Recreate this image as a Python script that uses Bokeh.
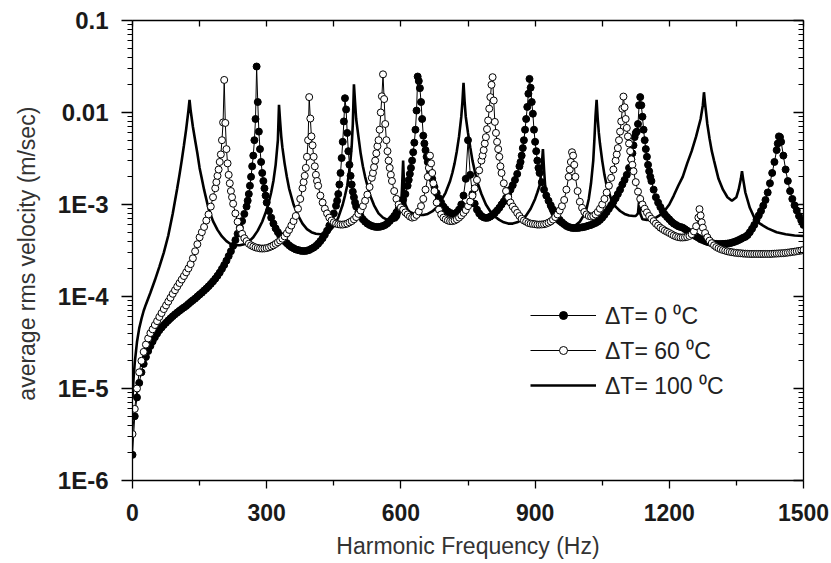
from bokeh.plotting import figure
from bokeh.models import (FixedTicker, LinearAxis, LogAxis, Range1d, ColumnDataSource,
                          Legend, LegendItem, CustomJSTickFormatter)
from bokeh.embed import file_html
from bokeh.resources import INLINE

FONT = "Liberation Sans"

# ---------------- data (frequency Hz, rms velocity m/s) ----------------
dt0 = [(0,1.9e-6),(5,5.0e-6),(10,8.0e-6),(15,1.15e-5),(20,1.5e-5),(25,1.85e-5),(30,2.2e-5),(35,2.55e-5),
(40,2.9e-5),(45,3.25e-5),(50,3.6e-5),(55,3.95e-5),(60,4.3e-5),(65,4.6e-5),(70,4.9e-5),(75,5.2e-5),
(80,5.5e-5),(85,5.8e-5),(90,6.1e-5),(95,6.4e-5),(100,6.7e-5),(105,7.0e-5),(110,7.3e-5),(115,7.6e-5),
(120,7.9e-5),(125,8.3e-5),(130,8.7e-5),(135,9.1e-5),(140,9.5e-5),(145,1.0e-4),(150,1.05e-4),(155,1.1e-4),
(160,1.16e-4),(165,1.22e-4),(170,1.29e-4),(175,1.37e-4),(180,1.46e-4),(185,1.56e-4),(190,1.68e-4),
(195,1.82e-4),(200,2.0e-4),(205,2.2e-4),(210,2.45e-4),(215,2.75e-4),(220,3.1e-4),(225,3.55e-4),
(230,4.1e-4),(235,4.8e-4),(240,5.6e-4),(245,6.6e-4),(250,7.9e-4),(255,9.5e-4),(257.5,1.1e-3),
(260,1.3e-3),(262.5,1.6e-3),(265,2.0e-3),(267.5,2.6e-3),(270,3.4e-3),(272.5,5.0e-3),(275,8.5e-3),
(277.5,3.16e-2),(280,1.3e-2),(282.5,6.2e-3),(285,4.0e-3),(287.5,2.9e-3),(290,2.2e-3),(292.5,1.8e-3),
(295,1.5e-3),(297.5,1.25e-3),(300,1.05e-3),(305,8.5e-4),(310,7.2e-4),(315,6.2e-4),(320,5.5e-4),
(325,5.0e-4),(330,4.6e-4),(335,4.25e-4),(340,4.0e-4),(345,3.8e-4),(350,3.6e-4),(355,3.45e-4),
(360,3.35e-4),(365,3.25e-4),(370,3.2e-4),(375,3.15e-4),(380,3.12e-4),(385,3.12e-4),(390,3.15e-4),
(395,3.2e-4),(400,3.3e-4),(405,3.4e-4),(410,3.55e-4),(415,3.75e-4),(420,4.0e-4),(425,4.3e-4),
(430,4.7e-4),(435,5.2e-4),(440,5.9e-4),(445,6.8e-4),(450,8.0e-4),(455,9.7e-4),(457.5,1.1e-3),
(460,1.3e-3),(462.5,1.65e-3),(465,2.2e-3),(467.5,3.2e-3),(470,4.8e-3),(472.5,8.0e-3),(475,1.43e-2),
(477.5,1.08e-2),(480,6.0e-3),(482.5,3.8e-3),(485,2.7e-3),(487.5,2.05e-3),(490,1.65e-3),(492.5,1.38e-3),
(495,1.2e-3),(497.5,1.05e-3),(500,9.5e-4),(505,8.3e-4),(510,7.5e-4),(515,6.9e-4),(520,6.5e-4),
(525,6.2e-4),(530,6.0e-4),(535,5.85e-4),(540,5.75e-4),(545,5.7e-4),(550,5.7e-4),(555,5.75e-4),
(560,5.85e-4),(565,6.0e-4),(570,6.25e-4),(575,6.6e-4),(580,7.0e-4),(585,7.5e-4),(590,8.2e-4),
(595,9.0e-4),(600,1.0e-3),(605,1.13e-3),(610,1.3e-3),(615,1.6e-3),(617.5,1.85e-3),(620,2.15e-3),
(622.5,2.5e-3),(625,3.0e-3),(627.5,3.7e-3),(630,4.7e-3),(632.5,6.5e-3),(635,1.05e-2),(637.5,2.46e-2),
(640,2.2e-2),(642.5,1.84e-2),(645,1.3e-2),(647.5,8.5e-3),(650,5.6e-3),(652.5,4.6e-3),(655,3.9e-3),
(657.5,3.3e-3),(660,2.9e-3),(665,2.3e-3),(670,1.9e-3),(675,1.55e-3),(680,1.33e-3),(685,1.17e-3),
(690,1.05e-3),(695,9.5e-4),(700,8.9e-4),(705,8.4e-4),(710,8.1e-4),(715,7.95e-4),(720,7.95e-4),
(725,8.2e-4),(730,8.8e-4),(735,1.0e-3),(740,1.25e-3),(745,1.9e-3),(750,5.0e-3),(755,2.1e-3),
(760,1.3e-3),(765,1.02e-3),(770,8.8e-4),(775,8.0e-4),(780,7.5e-4),(785,7.25e-4),(790,7.15e-4),
(795,7.2e-4),(800,7.4e-4),(805,7.7e-4),(810,8.1e-4),(815,8.6e-4),(820,9.2e-4),(825,1.0e-3),
(830,1.08e-3),(835,1.18e-3),(840,1.3e-3),(845,1.45e-3),(850,1.62e-3),(855,1.85e-3),(860,2.15e-3),
(865,2.6e-3),(867.5,2.9e-3),(870,3.4e-3),(872.5,4.1e-3),(875,5.0e-3),(877.5,6.5e-3),(880,8.5e-3),
(882.5,1.15e-2),(885,1.6e-2),(887.5,2.32e-2),(890,1.86e-2),(892.5,1.3e-2),(895,9.7e-3),(897.5,6.5e-3),
(900,4.8e-3),(902.5,3.8e-3),(905,3.0e-3),(907.5,2.5e-3),(910,2.2e-3),(915,1.75e-3),(920,1.45e-3),
(925,1.25e-3),(930,1.1e-3),(935,9.8e-4),(940,8.8e-4),(945,8.0e-4),(950,7.3e-4),(955,6.8e-4),
(960,6.4e-4),(965,6.1e-4),(970,5.85e-4),(975,5.7e-4),(980,5.6e-4),(985,5.55e-4),(990,5.55e-4),
(995,5.55e-4),(1000,5.6e-4),(1005,5.65e-4),(1010,5.7e-4),(1015,5.8e-4),(1020,5.9e-4),(1025,6.0e-4),
(1030,6.15e-4),(1035,6.3e-4),(1040,6.5e-4),(1045,6.8e-4),(1050,7.2e-4),(1055,7.7e-4),(1060,8.3e-4),
(1065,9.0e-4),(1070,9.8e-4),(1075,1.07e-3),(1080,1.17e-3),(1085,1.3e-3),(1090,1.45e-3),(1095,1.65e-3),
(1100,1.85e-3),(1105,2.1e-3),(1110,2.5e-3),(1115,3.1e-3),(1117.5,3.6e-3),(1120,4.4e-3),(1122.5,5.4e-3),
(1125,6.0e-3),(1127.5,6.2e-3),(1130,7.5e-3),(1132.5,1.2e-2),(1135,1.47e-2),(1137.5,1.2e-2),
(1140,9.0e-3),(1142.5,6.5e-3),(1145,5.0e-3),(1147.5,4.0e-3),(1150,3.3e-3),(1152.5,2.7e-3),
(1155,2.3e-3),(1157.5,2.0e-3),(1160,1.8e-3),(1165,1.45e-3),(1170,1.2e-3),(1175,1.05e-3),(1180,9.4e-4),
(1185,8.5e-4),(1190,7.8e-4),(1195,7.3e-4),(1200,6.9e-4),(1205,6.5e-4),(1210,6.2e-4),(1215,6.0e-4),
(1220,5.8e-4),(1225,5.7e-4),(1230,5.6e-4),(1235,5.4e-4),(1240,5.2e-4),(1245,5.0e-4),(1250,4.8e-4),
(1255,4.65e-4),(1260,4.5e-4),(1265,4.35e-4),(1270,4.2e-4),(1275,4.1e-4),(1280,4.0e-4),(1285,3.92e-4),
(1290,3.86e-4),(1295,3.8e-4),(1300,3.76e-4),(1305,3.73e-4),(1310,3.72e-4),(1315,3.72e-4),(1320,3.73e-4),
(1325,3.74e-4),(1330,3.76e-4),(1335,3.8e-4),(1340,3.85e-4),(1345,3.92e-4),(1350,4.0e-4),(1355,4.1e-4),
(1360,4.22e-4),(1365,4.35e-4),(1370,4.45e-4),(1375,4.65e-4),(1380,5.0e-4),(1385,5.45e-4),(1390,6.0e-4),
(1395,6.8e-4),(1400,7.6e-4),(1405,8.5e-4),(1410,9.7e-4),(1415,1.12e-3),(1420,1.35e-3),(1425,1.7e-3),
(1430,2.2e-3),(1435,2.9e-3),(1440,3.9e-3),(1442.5,4.6e-3),(1445,5.5e-3),(1447.5,5.4e-3),(1450,4.8e-3),
(1455,3.4e-3),(1460,2.4e-3),(1465,1.8e-3),(1470,1.4e-3),(1475,1.15e-3),(1480,9.8e-4),(1485,8.6e-4),
(1490,7.5e-4),(1495,6.7e-4),(1500,6.0e-4)]

dt60 = [(0,3.2e-6),(5,6.0e-6),(10,1.0e-5),(15,1.5e-5),(20,2.0e-5),(25,2.5e-5),(30,3.0e-5),(35,3.5e-5),
(40,4.0e-5),(45,4.4e-5),(50,4.9e-5),(55,5.4e-5),(60,6.0e-5),(65,6.6e-5),(70,7.3e-5),(75,8.0e-5),
(80,8.8e-5),(85,9.7e-5),(90,1.07e-4),(95,1.17e-4),(100,1.28e-4),(105,1.4e-4),(110,1.53e-4),(115,1.67e-4),
(120,1.83e-4),(125,2.02e-4),(130,2.25e-4),(135,2.6e-4),(140,3.1e-4),(145,3.7e-4),(150,4.4e-4),
(155,5.0e-4),(160,5.7e-4),(165,6.7e-4),(170,7.8e-4),(175,9.5e-4),(180,1.2e-3),(185,1.5e-3),
(187.5,1.75e-3),(190,2.05e-3),(192.5,2.4e-3),(195,2.9e-3),(197.5,3.5e-3),(200,5.0e-3),(202.5,7.8e-3),
(205,2.26e-2),(207.5,7.7e-3),(210,4.0e-3),(212.5,2.8e-3),(215,2.1e-3),(217.5,1.7e-3),(220,1.4e-3),
(222.5,1.2e-3),(225,1.02e-3),(230,8.0e-4),(235,6.5e-4),(240,5.5e-4),(245,4.8e-4),(250,4.3e-4),
(255,4.0e-4),(260,3.75e-4),(265,3.6e-4),(270,3.5e-4),(275,3.42e-4),(280,3.37e-4),(285,3.33e-4),
(290,3.32e-4),(295,3.33e-4),(300,3.36e-4),(305,3.42e-4),(310,3.5e-4),(315,3.6e-4),(320,3.73e-4),
(325,3.88e-4),(330,4.05e-4),(335,4.25e-4),(340,4.5e-4),(345,4.85e-4),(350,5.3e-4),(355,5.9e-4),
(360,6.6e-4),(365,7.5e-4),(370,9.0e-4),(375,1.15e-3),(380,1.5e-3),(382.5,1.75e-3),(385,2.05e-3),
(387.5,2.5e-3),(390,3.3e-3),(392.5,5.0e-3),(395,1.47e-2),(397.5,8.6e-3),(400,5.5e-3),(402.5,4.4e-3),
(405,3.3e-3),(407.5,2.6e-3),(410,2.1e-3),(412.5,1.8e-3),(415,1.6e-3),(420,1.25e-3),(425,1.05e-3),
(430,9.0e-4),(435,8.0e-4),(440,7.2e-4),(445,6.7e-4),(450,6.4e-4),(455,6.2e-4),(460,6.1e-4),
(465,6.05e-4),(470,6.05e-4),(475,6.1e-4),(480,6.2e-4),(485,6.4e-4),(490,6.6e-4),(495,6.9e-4),
(500,7.3e-4),(505,7.9e-4),(510,8.6e-4),(515,9.6e-4),(520,1.1e-3),(525,1.28e-3),(530,1.55e-3),
(535,1.95e-3),(537.5,2.2e-3),(540,2.55e-3),(542.5,3.0e-3),(545,3.6e-3),(547.5,4.3e-3),(550,5.0e-3),
(552.5,6.5e-3),(555,1.0e-2),(557.5,1.5e-2),(560,2.6e-2),(562.5,1.4e-2),(565,7.5e-3),(567.5,5.0e-3),
(570,3.8e-3),(572.5,3.0e-3),(575,2.5e-3),(577.5,2.1e-3),(580,1.8e-3),(585,1.4e-3),(590,1.15e-3),
(595,1.0e-3),(600,9.3e-4),(605,8.8e-4),(610,8.2e-4),(615,7.8e-4),(620,7.4e-4),(625,7.2e-4),
(630,7.3e-4),(635,7.7e-4),(640,8.4e-4),(645,9.6e-4),(650,1.15e-3),(655,1.45e-3),(660,2.0e-3),
(662.5,2.5e-3),(665,3.4e-3),(667.5,2.8e-3),(670,2.2e-3),(672.5,1.7e-3),(675,1.4e-3),(680,1.05e-3),
(685,8.8e-4),(690,7.8e-4),(695,7.2e-4),(700,6.9e-4),(705,6.7e-4),(710,6.6e-4),(715,6.6e-4),
(720,6.7e-4),(725,6.9e-4),(730,7.2e-4),(735,7.6e-4),(740,8.1e-4),(745,8.7e-4),(750,9.6e-4),
(755,1.08e-3),(760,1.25e-3),(765,1.5e-3),(770,1.85e-3),(775,2.35e-3),(780,3.0e-3),(782.5,3.4e-3),
(785,3.9e-3),(787.5,4.6e-3),(790,5.4e-3),(792.5,6.6e-3),(795,8.2e-3),(797.5,1.1e-2),(800,1.47e-2),
(802.5,2.0e-2),(805,2.42e-2),(807.5,1.35e-2),(810,7.9e-3),(812.5,6.0e-3),(815,4.8e-3),(817.5,4.0e-3),
(820,3.3e-3),(822.5,2.6e-3),(825,2.2e-3),(830,1.7e-3),(835,1.4e-3),(840,1.2e-3),(845,1.05e-3),
(850,9.5e-4),(855,8.8e-4),(860,8.1e-4),(865,7.5e-4),(870,7.0e-4),(875,6.7e-4),(880,6.5e-4),
(885,6.3e-4),(890,6.2e-4),(895,6.15e-4),(900,6.1e-4),(905,6.05e-4),(910,6.05e-4),(915,6.07e-4),
(920,6.1e-4),(925,6.2e-4),(930,6.35e-4),(935,6.55e-4),(940,6.85e-4),(945,7.3e-4),(950,7.8e-4),
(955,8.6e-4),(960,9.6e-4),(965,1.12e-3),(970,1.45e-3),(975,2.0e-3),(977.5,2.4e-3),(980,2.9e-3),
(982.5,3.7e-3),(985,3.4e-3),(987.5,2.7e-3),(990,2.0e-3),(995,1.4e-3),(1000,1.07e-3),(1005,9.2e-4),
(1010,8.3e-4),(1015,7.8e-4),(1020,7.5e-4),(1025,7.4e-4),(1030,7.5e-4),(1035,7.8e-4),(1040,8.3e-4),
(1045,9.0e-4),(1050,1.0e-3),(1055,1.15e-3),(1060,1.35e-3),(1065,1.6e-3),(1070,1.95e-3),(1075,2.4e-3),
(1080,3.0e-3),(1082.5,3.5e-3),(1085,4.1e-3),(1087.5,5.0e-3),(1090,6.2e-3),(1092.5,8.0e-3),
(1095,1.1e-2),(1097.5,1.49e-2),(1100,1.14e-2),(1102.5,8.5e-3),(1105,6.8e-3),(1107.5,5.5e-3),
(1110,4.6e-3),(1112.5,3.8e-3),(1115,3.1e-3),(1117.5,2.7e-3),(1120,2.3e-3),(1125,1.75e-3),
(1130,1.38e-3),(1135,1.15e-3),(1140,1.0e-3),(1145,9.0e-4),(1150,8.2e-4),(1155,7.5e-4),(1160,7.0e-4),
(1165,6.6e-4),(1170,6.2e-4),(1175,5.9e-4),(1180,5.6e-4),(1185,5.4e-4),(1190,5.2e-4),(1195,5.05e-4),
(1200,4.9e-4),(1205,4.75e-4),(1210,4.6e-4),(1215,4.5e-4),(1220,4.42e-4),(1225,4.38e-4),(1230,4.38e-4),
(1235,4.4e-4),(1240,4.45e-4),(1245,4.55e-4),(1250,4.75e-4),(1255,5.1e-4),(1260,5.8e-4),(1265,7.2e-4),
(1267.5,8.9e-4),(1270,7.6e-4),(1272.5,6.4e-4),(1275,5.6e-4),(1280,4.9e-4),(1285,4.4e-4),(1290,4.05e-4),
(1295,3.8e-4),(1300,3.6e-4),(1305,3.45e-4),(1310,3.35e-4),(1315,3.27e-4),(1320,3.2e-4),(1325,3.15e-4),
(1330,3.1e-4),(1335,3.06e-4),(1340,3.03e-4),(1345,3.0e-4),(1350,2.98e-4),(1355,2.96e-4),(1360,2.95e-4),
(1365,2.93e-4),(1370,2.92e-4),(1375,2.91e-4),(1380,2.9e-4),(1385,2.9e-4),(1390,2.9e-4),(1395,2.9e-4),
(1400,2.9e-4),(1405,2.9e-4),(1410,2.9e-4),(1415,2.9e-4),(1420,2.9e-4),(1425,2.9e-4),(1430,2.91e-4),
(1435,2.92e-4),(1440,2.93e-4),(1445,2.94e-4),(1450,2.95e-4),(1455,2.96e-4),(1460,2.98e-4),(1465,3.0e-4),
(1470,3.02e-4),(1475,3.05e-4),(1480,3.07e-4),(1485,3.1e-4),(1490,3.13e-4),(1495,3.16e-4),(1500,3.2e-4)]

dt100 = [(0,8.0e-6),(2.5,1.3e-5),(5,1.9e-5),(10,3.2e-5),(15,4.5e-5),(20,5.7e-5),(25,7.0e-5),(30,8.2e-5),
(40,1.1e-4),(50,1.5e-4),(60,2.1e-4),(70,3.0e-4),(80,4.6e-4),(90,8.0e-4),(100,1.5e-3),(105,2.1e-3),
(110,3.0e-3),(115,4.4e-3),(120,6.6e-3),(125,1.05e-2),(127.5,1.37e-2),(130,1.05e-2),(135,7.0e-3),
(140,5.0e-3),(145,3.6e-3),(150,2.5e-3),(155,1.9e-3),(160,1.45e-3),(170,9.0e-4),(180,6.6e-4),
(190,5.3e-4),(200,4.5e-4),(210,4.0e-4),(220,3.7e-4),(230,3.6e-4),(240,3.6e-4),(250,3.7e-4),
(260,3.95e-4),(270,4.4e-4),(280,5.2e-4),(290,6.5e-4),(300,8.8e-4),(305,1.07e-3),(310,1.35e-3),
(315,1.8e-3),(320,2.7e-3),(325,5.0e-3),(327.5,1.21e-2),(330,8.0e-3),(332.5,5.5e-3),(335,4.2e-3),
(340,2.8e-3),(345,2.0e-3),(350,1.5e-3),(360,1.0e-3),(370,7.6e-4),(380,6.2e-4),(390,5.4e-4),
(400,5.0e-4),(410,4.8e-4),(420,4.75e-4),(430,4.8e-4),(440,5.1e-4),(450,5.8e-4),(460,7.2e-4),
(470,1.0e-3),(475,1.25e-3),(480,1.6e-3),(485,2.4e-3),(487.5,3.1e-3),(490,4.3e-3),(492.5,7.5e-3),
(495,2.03e-2),(497.5,1.3e-2),(500,8.5e-3),(505,5.5e-3),(510,3.6e-3),(515,2.6e-3),(520,2.0e-3),
(530,1.3e-3),(540,9.8e-4),(550,8.0e-4),(560,7.2e-4),(570,6.8e-4),(580,6.6e-4),(590,6.8e-4),
(595,7.3e-4),(600,9.0e-4),(602.5,1.5e-3),(605,3.0e-3),(607.5,1.4e-3),(610,1.0e-3),(615,8.8e-4),
(620,8.3e-4),(630,7.9e-4),(640,7.7e-4),(650,7.7e-4),(660,7.9e-4),(670,8.4e-4),(680,9.3e-4),
(690,1.1e-3),(700,1.35e-3),(710,1.8e-3),(715,2.2e-3),(720,2.8e-3),(725,3.8e-3),(730,5.5e-3),
(735,9.0e-3),(737.5,1.3e-2),(740,2.1e-2),(742.5,1.3e-2),(745,9.0e-3),(750,6.0e-3),(755,4.2e-3),
(760,3.0e-3),(770,1.8e-3),(780,1.3e-3),(790,1.0e-3),(800,8.4e-4),(810,7.4e-4),(820,6.8e-4),
(830,6.4e-4),(840,6.2e-4),(850,6.2e-4),(860,6.4e-4),(870,6.8e-4),(880,7.6e-4),(890,9.0e-4),
(900,1.15e-3),(905,1.35e-3),(910,1.6e-3),(912.5,2.0e-3),(915,2.7e-3),(917.5,4.0e-3),(920,2.4e-3),
(922.5,1.6e-3),(925,1.25e-3),(930,9.5e-4),(940,7.4e-4),(950,6.4e-4),(960,5.9e-4),(970,5.7e-4),
(980,5.7e-4),(990,5.9e-4),(1000,6.5e-4),(1010,7.8e-4),(1015,9.0e-4),(1020,1.15e-3),(1025,1.7e-3),
(1030,3.0e-3),(1032.5,5.0e-3),(1035,9.0e-3),(1037.5,1.37e-2),(1040,8.5e-3),(1042.5,6.0e-3),
(1045,4.6e-3),(1050,3.0e-3),(1055,2.1e-3),(1060,1.6e-3),(1070,1.15e-3),(1080,9.5e-4),(1090,8.5e-4),
(1100,7.9e-4),(1110,7.6e-4),(1120,7.5e-4),(1125,7.5e-4),(1130,8.0e-4),(1132.5,1.1e-3),(1135,8.0e-4),
(1140,6.9e-4),(1150,6.8e-4),(1160,6.9e-4),(1170,7.2e-4),(1180,7.7e-4),(1190,8.6e-4),(1200,1.0e-3),
(1210,1.25e-3),(1220,1.6e-3),(1230,2.0e-3),(1240,2.8e-3),(1250,3.8e-3),(1260,5.5e-3),(1270,8.5e-3),
(1275,1.2e-2),(1277.5,1.66e-2),(1280,1.25e-2),(1285,7.5e-3),(1290,5.2e-3),(1295,3.8e-3),(1300,3.0e-3),
(1310,1.9e-3),(1320,1.45e-3),(1330,1.2e-3),(1340,1.1e-3),(1350,1.2e-3),(1355,1.45e-3),(1360,1.9e-3),
(1362.5,2.3e-3),(1365,1.9e-3),(1370,1.35e-3),(1380,9.2e-4),(1390,7.2e-4),(1400,6.3e-4),(1420,5.5e-4),
(1440,5.0e-4),(1460,4.75e-4),(1480,4.6e-4),(1500,4.55e-4)]

series_labels = ["\u0394T= 0 \u2070C", "\u0394T= 60 \u2070C", "\u0394T= 100 \u2070C"]

x_major_ticks = [0, 300, 600, 900, 1200, 1500]
x_minor_ticks = [150, 450, 750, 1050, 1350]
x_top_ticks = [0, 150, 300, 450, 600, 750, 900, 1050, 1200, 1350, 1500]
y_major_ticks = [1e-6, 1e-5, 1e-4, 1e-3, 1e-2, 1e-1]
y_tick_labels = ["1E-6", "1E-5", "1E-4", "1E-3", "0.01", "0.1"]
y_minor_ticks = [m * d for d in [1e-6, 1e-5, 1e-4, 1e-3, 1e-2] for m in range(2, 10)]

def to_source(pairs):
    return ColumnDataSource(dict(f=[a for a, _ in pairs], v=[b for _, b in pairs]))

p = figure(width=831, height=563, y_axis_type="log",
           x_range=Range1d(0, 1500), y_range=Range1d(1e-6, 0.1),
           output_backend="svg", toolbar_location=None,
           min_border_left=132, min_border_right=28, min_border_top=20, min_border_bottom=83)
p.grid.visible = False
p.outline_line_color = None
p.background_fill_color = "white"
p.border_fill_color = "white"

# bottom axis
xa = p.xaxis[0]
xa.ticker = FixedTicker(ticks=x_major_ticks, minor_ticks=x_minor_ticks)
xa.major_tick_out = 8; xa.major_tick_in = 0
xa.minor_tick_out = 5; xa.minor_tick_in = 0
xa.axis_line_width = 1.3; xa.major_tick_line_width = 1.3; xa.minor_tick_line_width = 1.3
xa.major_label_text_font = FONT
xa.major_label_text_font_style = "bold"
xa.major_label_text_font_size = "23px"
xa.major_label_text_color = "#1a1a1a"
xa.major_label_standoff = 15
xa.axis_label = "Harmonic Frequency (Hz)"
xa.axis_label_text_font = FONT
xa.axis_label_text_font_style = "normal"
xa.axis_label_text_font_size = "23px"
xa.axis_label_text_color = "#333333"
xa.axis_label_standoff = 9

# left axis
ya = p.yaxis[0]
ya.ticker = FixedTicker(ticks=y_major_ticks, minor_ticks=y_minor_ticks)
ya.major_label_overrides = dict(zip(y_major_ticks, y_tick_labels))
ya.major_tick_out = 11; ya.major_tick_in = 0
ya.minor_tick_out = 5; ya.minor_tick_in = 0
ya.axis_line_width = 1.3; ya.major_tick_line_width = 1.3; ya.minor_tick_line_width = 1.1
ya.major_label_text_font = FONT
ya.major_label_text_font_style = "bold"
ya.major_label_text_font_size = "24px"
ya.major_label_text_color = "#1a1a1a"
ya.major_label_standoff = 13
ya.axis_label = "average rms velocity  (m/sec)"
ya.axis_label_text_font = FONT
ya.axis_label_text_font_style = "normal"
ya.axis_label_text_font_size = "23px"
ya.axis_label_text_color = "#333333"
ya.axis_label_standoff = 15

blank = CustomJSTickFormatter(code="return '';")

# top axis (ticks inside, no labels)
top = LinearAxis(ticker=FixedTicker(ticks=x_top_ticks), formatter=blank,
                 major_tick_in=6, major_tick_out=0, minor_tick_in=0, minor_tick_out=0,
                 major_label_standoff=0, axis_line_width=1.3, major_tick_line_width=1.3)
p.add_layout(top, "above")

# right axis (ticks inside, no labels)
right = LogAxis(ticker=FixedTicker(ticks=y_major_ticks, minor_ticks=y_minor_ticks), formatter=blank,
                major_tick_in=10, major_tick_out=0, minor_tick_in=5, minor_tick_out=0,
                major_label_standoff=0,
                axis_line_width=1.3, major_tick_line_width=1.3, minor_tick_line_width=1.1)
p.add_layout(right, "right")

s0, s60, s100 = to_source(dt0), to_source(dt60), to_source(dt100)

r100 = p.line("f", "v", source=s100, line_width=2.6, line_color="black")
r0l = p.line("f", "v", source=s0, line_width=1, line_color="black")
r0m = p.scatter("f", "v", source=s0, marker="circle", size=7, fill_color="black", line_color="black")
r60l = p.line("f", "v", source=s60, line_width=1, line_color="black")
r60m = p.scatter("f", "v", source=s60, marker="circle", size=7, fill_color="white",
                 line_color="black", line_width=1)

legend = Legend(items=[LegendItem(label=series_labels[0], renderers=[r0l, r0m]),
                       LegendItem(label=series_labels[1], renderers=[r60l, r60m]),
                       LegendItem(label=series_labels[2], renderers=[r100])],
                location=(398, 79), orientation="vertical",
                glyph_width=66, glyph_height=20, label_height=20, spacing=3,
                label_standoff=9, padding=0, margin=0,
                label_text_font=FONT, label_text_font_size="23px", label_text_color="#222222",
                border_line_color=None, background_fill_alpha=0)
p.add_layout(legend)

open("out.html", "w").write(file_html(p, INLINE))
